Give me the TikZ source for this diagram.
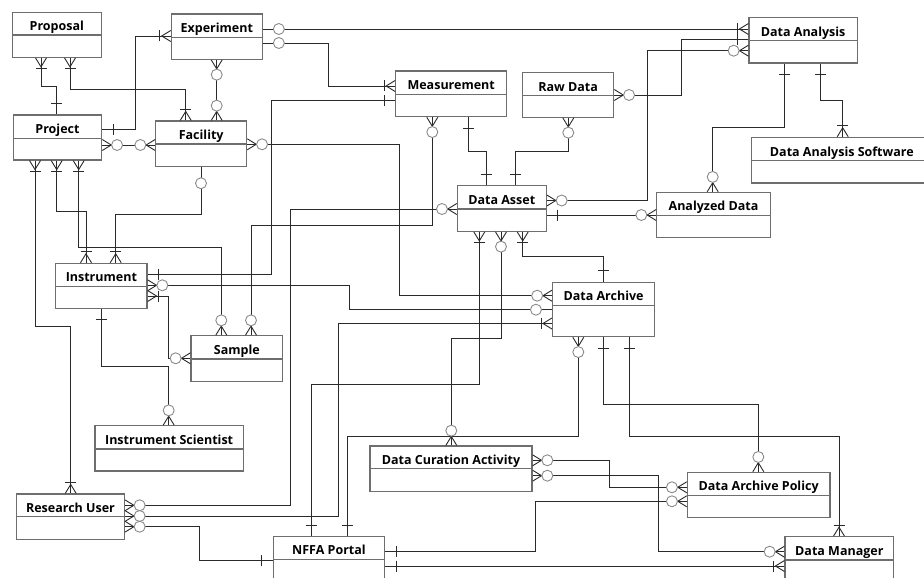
\documentclass[tikz,border=0pt]{standalone}
\usepackage{fontspec}
\setmainfont{Open Sans}
\usetikzlibrary{fit}
\definecolor{boxgray}{HTML}{6E6E6E}
\definecolor{linec}{HTML}{2A2A2A}
\definecolor{circc}{HTML}{8A8A8A}
\tikzset{
  ebox/.style={draw=boxgray, line width=1.1pt},
  etxt/.style={font=\bfseries\fontsize{12.5}{15}\selectfont, inner sep=0pt, text=black, anchor=base},
  rel/.style={draw=linec, line width=0.9pt},
  circm/.style={draw=circc, line width=0.9pt, fill=white},
  pics/mone/.style={code={\draw[rel] (11,-5.5) -- (11,5.5);}},
  pics/mmany/.style={code={\draw[rel] (0,-5.5) -- (9,0) -- (0,5.5); \draw[rel] (11,-5.5) -- (11,5.5);}},
  pics/zmany/.style={code={\draw[rel] (0,-5.5) -- (9,0) -- (0,5.5); \draw[circm] (14.8,0) circle [radius=5.5pt];}},
  pics/zone/.style={code={\draw[circm] (16,0) circle [radius=5.5pt];}},
}
\newcommand\entity[7]{%
  \node[ebox, inner sep=0pt, fit={(#2,#3) (#4,#5)}] (#1) {};
  \draw[ebox] (#1.west |- 0,#6) -- (#1.east |- 0,#6);
  \node[etxt] (#1-t) at ({(#2+#4)/2},{#6-4.6}) {#7};
}
\newcommand\M[3]{\pic[rotate=#2] at #3 {#1};}
\begin{document}
\begin{tikzpicture}[x=1pt,y=-1pt]
\useasboundingbox (0,0) rectangle (924,578);
% entities
\entity{proposal}{12.3}{12.3}{101.3}{57.3}{35}{Proposal}
\entity{experiment}{171.3}{14}{262.3}{59.3}{37.3}{Experiment}
\entity{project}{13.3}{115}{101.7}{160}{138.3}{Project}
\entity{facility}{155.7}{121}{246.7}{166.7}{144}{Facility}
\entity{measurement}{395.7}{71}{506.7}{116.7}{94.3}{Measurement}
\entity{rawdata}{522.7}{72.3}{613.7}{117.3}{95.7}{Raw Data}
\entity{analysis}{749}{17.3}{857.3}{63}{40.7}{Data Analysis}
\entity{software}{751.7}{137.3}{932}{183}{160.7}{Data Analysis Software}
\entity{analyzed}{656.7}{192.3}{770.3}{237.7}{215.3}{Analyzed Data}
\entity{asset}{457.3}{185.7}{546.3}{231.3}{209}{Data Asset}
\entity{archive}{552.5}{282.3}{654.7}{336.7}{305.3}{Data Archive}
\entity{instrument}{55.7}{263.3}{147}{308.3}{286.3}{Instrument}
\entity{sample}{191}{335.7}{282.7}{381.3}{359}{Sample}
\entity{scientist}{95}{425.7}{243.3}{471}{449}{Instrument Scientist}
\entity{ruser}{16.7}{494}{124.3}{539.3}{516.7}{Research User}
\entity{portal}{273.3}{536.7}{384.7}{592}{559.3}{NFFA Portal}
\entity{dca}{370}{446}{532}{491.3}{468.7}{Data Curation Activity}
\entity{dap}{687.3}{472.3}{830}{517.3}{495.3}{Data Archive Policy}
\entity{manager}{785}{536.7}{893.7}{592}{560}{Data Manager}
% connectors
\draw[rel] (proposal.south -| 41,0) |- (56.7,86) -- (project.north -| 56.7,0);
\draw[rel] (proposal.south -| 70,0) |- (185.7,89.3) -- (facility.north -| 185.7,0);
\draw[rel] (project.east |- 0,129.3) -| (135.7,36) -- (experiment.west |- 0,36);
\draw[rel] (project.east |- 0,145) -- (facility.west |- 0,145);
\draw[rel] (experiment.south -| 216.7,0) -- (facility.north -| 216.7,0);
\draw[rel] (experiment.east |- 0,29) -- (analysis.west |- 0,29);
\draw[rel] (experiment.east |- 0,43) -| (328.3,86) -- (measurement.west |- 0,86);
\draw[rel] (facility.east |- 0,144.3) -| (399.3,295.7) -- (archive.west |- 0,295.7);
\draw[rel] (facility.south -| 201,0) |- (115.7,214.3) -- (instrument.north -| 115.7,0);
\draw[rel] (project.south -| 35,0) |- (70.7,326.7) -- (ruser.north -| 70.7,0);
\draw[rel] (project.south -| 56.7,0) |- (86,211.7) -- (instrument.north -| 86,0);
\draw[rel] (project.south -| 78.7,0) |- (221.3,247.7) -- (sample.north -| 221.3,0);
\draw[rel] (measurement.south -| 432.3,0) |- (251,225.7) -- (sample.north -| 251,0);
\draw[rel] (instrument.east |- 0,274.3) -| (271,100.7) -- (measurement.west |- 0,100.7);
\draw[rel] (instrument.east |- 0,285.3) -| (349.3,309.7) -- (archive.west |- 0,309.7);
\draw[rel] (instrument.east |- 0,296) -| (168.7,358.3) -- (sample.west |- 0,358.3);
\draw[rel] (instrument.south -| 101.3,0) |- (168.7,366.7) -- (scientist.north -| 168.7,0);
\draw[rel] (measurement.south -| 468.3,0) |- (486,151) -- (asset.north -| 486,0);
\draw[rel] (rawdata.south -| 568.3,0) |- (515.7,151) -- (asset.north -| 515.7,0);
\draw[rel] (rawdata.east |- 0,95) -| (681,39.3) -- (analysis.west |- 0,39.3);
\draw[rel] (asset.east |- 0,200.5) -| (647.7,50.7) -- (analysis.west |- 0,50.7);
\draw[rel] (asset.east |- 0,215) -- (analyzed.west |- 0,215);
\draw[rel] (asset.west |- 0,209) -| (290.7,505.3) -- (ruser.east |- 0,505.3);
\draw[rel] (asset.south -| 522.7,0) |- (603.7,256.7) -- (archive.north -| 603.7,0);
\draw[rel] (asset.south -| 501,0) |- (451.3,338.7) -- (dca.north -| 451.3,0);
\draw[rel] (asset.south -| 479.3,0) |- (311,384) -- (portal.north -| 311,0);
\draw[rel] (archive.west |- 0,323.5) -| (338.3,516) -- (ruser.east |- 0,516);
\draw[rel] (archive.south -| 578.3,0) |- (347.7,436.7) -- (portal.north -| 347.7,0);
\draw[rel] (archive.south -| 603.5,0) |- (758.3,404) -- (dap.north -| 758.3,0);
\draw[rel] (archive.south -| 629,0) |- (839,436.7) -- (manager.north -| 839,0);
\draw[rel] (dca.east |- 0,460.3) -| (609.3,487.3) -- (dap.west |- 0,487.3);
\draw[rel] (dca.east |- 0,475.7) -| (658.3,551.7) -- (manager.west |- 0,551.7);
\draw[rel] (portal.east |- 0,551.7) -| (535.7,501.3) -- (dap.west |- 0,501.3);
\draw[rel] (portal.east |- 0,566) -- (manager.west |- 0,566);
\draw[rel] (ruser.east |- 0,526.7) -| (199,560) -- (portal.west |- 0,560);
\draw[rel] (analysis.south -| 784.3,0) |- (712.7,127.3) -- (analyzed.north -| 712.7,0);
\draw[rel] (analysis.south -| 820,0) |- (842.7,100) -- (software.north -| 842.7,0);
% end markers
\M{mmany}{270}{(proposal.south -| 41,0)} \M{mone}{90}{(project.north -| 56.7,0)}
\M{mmany}{270}{(proposal.south -| 70,0)} \M{mmany}{90}{(facility.north -| 185.7,0)}
\M{mone}{0}{(project.east |- 0,129.3)} \M{mmany}{180}{(experiment.west |- 0,36)}
\M{zmany}{0}{(project.east |- 0,145)} \M{zmany}{180}{(facility.west |- 0,145)}
\M{zmany}{270}{(experiment.south -| 216.7,0)} \M{zmany}{90}{(facility.north -| 216.7,0)}
\M{zone}{0}{(experiment.east |- 0,29)} \M{mmany}{180}{(analysis.west |- 0,29)}
\M{zone}{0}{(experiment.east |- 0,43)} \M{mmany}{180}{(measurement.west |- 0,86)}
\M{zmany}{0}{(facility.east |- 0,144.3)} \M{zmany}{180}{(archive.west |- 0,295.7)}
\M{zone}{270}{(facility.south -| 201,0)} \M{mmany}{90}{(instrument.north -| 115.7,0)}
\M{mmany}{270}{(project.south -| 35,0)} \M{mmany}{90}{(ruser.north -| 70.7,0)}
\M{mmany}{270}{(project.south -| 56.7,0)} \M{mmany}{90}{(instrument.north -| 86,0)}
\M{mmany}{270}{(project.south -| 78.7,0)} \M{zmany}{90}{(sample.north -| 221.3,0)}
\M{zmany}{270}{(measurement.south -| 432.3,0)} \M{zmany}{90}{(sample.north -| 251,0)}
\M{mone}{0}{(instrument.east |- 0,274.3)} \M{mone}{180}{(measurement.west |- 0,100.7)}
\M{zmany}{0}{(instrument.east |- 0,285.3)} \M{zone}{180}{(archive.west |- 0,309.7)}
\M{mmany}{0}{(instrument.east |- 0,296)} \M{zmany}{180}{(sample.west |- 0,358.3)}
\M{mone}{270}{(instrument.south -| 101.3,0)} \M{zmany}{90}{(scientist.north -| 168.7,0)}
\M{mone}{270}{(measurement.south -| 468.3,0)} \M{mone}{90}{(asset.north -| 486,0)}
\M{zmany}{270}{(rawdata.south -| 568.3,0)} \M{mone}{90}{(asset.north -| 515.7,0)}
\M{zmany}{0}{(rawdata.east |- 0,95)} \M{mone}{180}{(analysis.west |- 0,39.3)}
\M{zmany}{0}{(asset.east |- 0,200.5)} \M{zmany}{180}{(analysis.west |- 0,50.7)}
\M{mone}{0}{(asset.east |- 0,215)} \M{zmany}{180}{(analyzed.west |- 0,215)}
\M{zmany}{180}{(asset.west |- 0,209)} \M{zmany}{0}{(ruser.east |- 0,505.3)}
\M{mmany}{270}{(asset.south -| 522.7,0)} \M{mone}{90}{(archive.north -| 603.7,0)}
\M{zmany}{270}{(asset.south -| 501,0)} \M{zmany}{90}{(dca.north -| 451.3,0)}
\M{mmany}{270}{(asset.south -| 479.3,0)} \M{mone}{90}{(portal.north -| 311,0)}
\M{mmany}{180}{(archive.west |- 0,323.5)} \M{zmany}{0}{(ruser.east |- 0,516)}
\M{zmany}{270}{(archive.south -| 578.3,0)} \M{mone}{90}{(portal.north -| 347.7,0)}
\M{mone}{270}{(archive.south -| 603.5,0)} \M{zmany}{90}{(dap.north -| 758.3,0)}
\M{mone}{270}{(archive.south -| 629,0)} \M{mmany}{90}{(manager.north -| 839,0)}
\M{zmany}{0}{(dca.east |- 0,460.3)} \M{zmany}{180}{(dap.west |- 0,487.3)}
\M{zmany}{0}{(dca.east |- 0,475.7)} \M{zmany}{180}{(manager.west |- 0,551.7)}
\M{mone}{0}{(portal.east |- 0,551.7)} \M{zmany}{180}{(dap.west |- 0,501.3)}
\M{mone}{0}{(portal.east |- 0,566)} \M{mmany}{180}{(manager.west |- 0,566)}
\M{zmany}{0}{(ruser.east |- 0,526.7)} \M{mone}{180}{(portal.west |- 0,560)}
\M{mone}{270}{(analysis.south -| 784.3,0)} \M{zmany}{90}{(analyzed.north -| 712.7,0)}
\M{mone}{270}{(analysis.south -| 820,0)} \M{mmany}{90}{(software.north -| 842.7,0)}
\end{tikzpicture}
\end{document}
